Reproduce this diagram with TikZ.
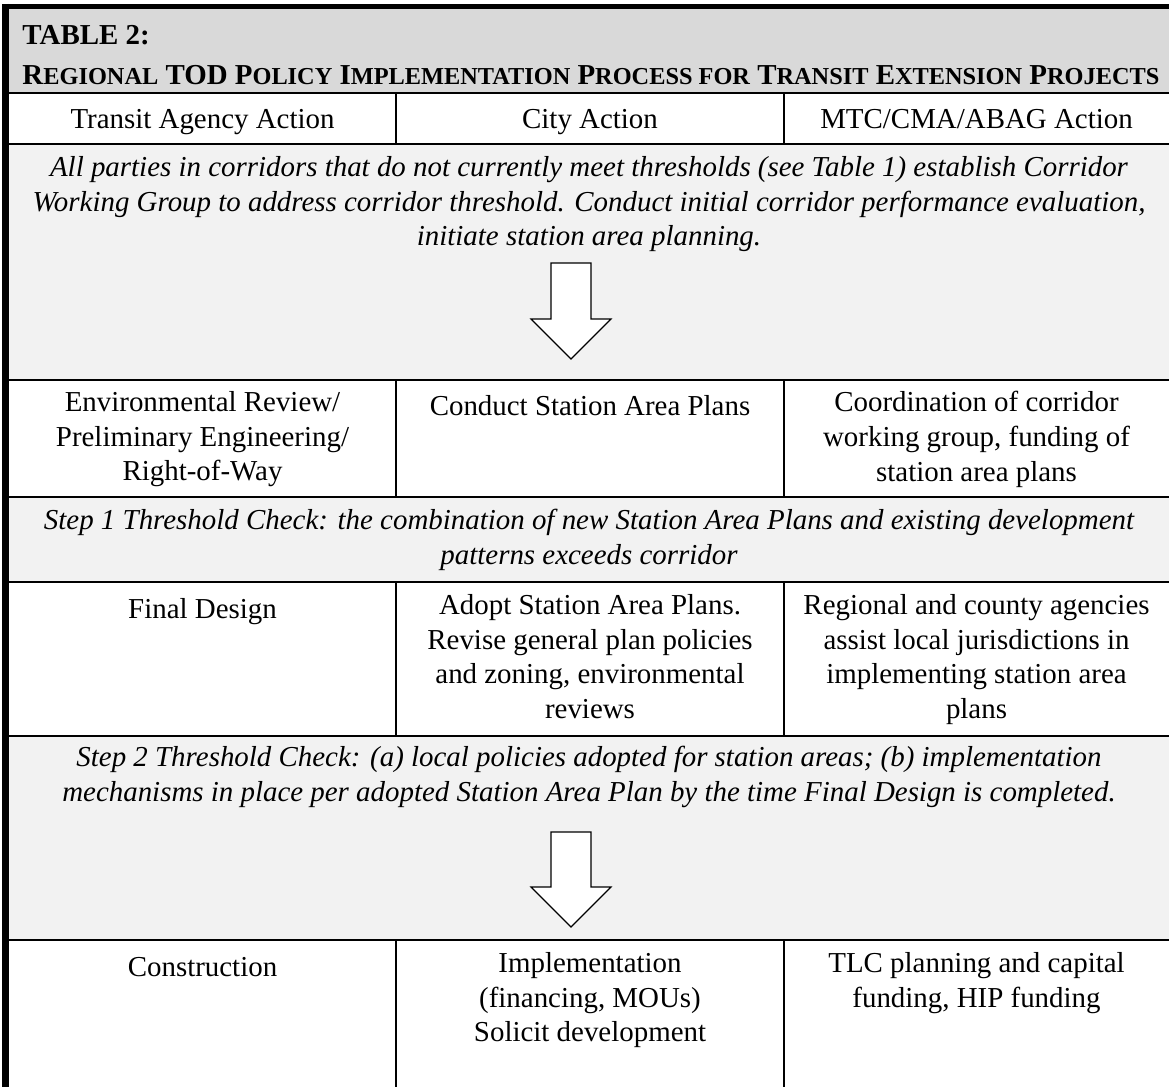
\documentclass[tikz,border=0pt]{standalone}
\usepackage{fontspec}
\setmainfont{Liberation Serif}
\definecolor{titlegray}{HTML}{D9D9D9}
\definecolor{rowgray}{HTML}{F2F2F2}
\newcommand{\smallcap}[1]{{\fontsize{10.1}{11}\selectfont #1}}

\begin{document}
\begin{tikzpicture}[x=0.415pt,y=-0.415pt,
	cell/.style={anchor=north,inner sep=0pt,align=center,font={\fontsize{12}{14.4}\selectfont},execute at begin node=\strut},
	note/.style={cell,font={\fontsize{12}{14.4}\selectfont\itshape}},
	heading/.style={anchor=base west,inner sep=0pt,font={\fontsize{12}{14.4}\selectfont\bfseries}},
	rule/.style={line width=1pt},
	blockarrow/.style={fill=white,draw=black,line width=0.5pt,line join=miter}]
	\useasboundingbox (0,0) rectangle (1169,1087);
	% shading of the bands
	\fill[titlegray] (9,9) rectangle (1169,93);
	\fill[rowgray] (9,144) rectangle (1169,380);
	\fill[rowgray] (9,497) rectangle (1169,582);
	\fill[rowgray] (9,736) rectangle (1169,940);
	% rules
	\foreach \y in {93,144,380,497,582,736,940}
		\draw[rule] (9,\y) -- (1169,\y);
	\foreach \x in {396,784} {
		\draw[rule] (\x,93) -- (\x,144);
		\draw[rule] (\x,380) -- (\x,497);
		\draw[rule] (\x,582) -- (\x,736);
		\draw[rule] (\x,940) -- (\x,1087);
	}
	\draw[line width=2.2pt] (2,6.5) -- (1169,6.5);
	\draw[line width=2.9pt] (5.5,4) -- (5.5,1087);
	% title
	\node[heading] (title) at (22,45) {TABLE 2:};
	\node[heading] (subtitle) at (22,85) {R\smallcap{EGIONAL} TOD P\smallcap{OLICY} I\smallcap{MPLEMENTATION} P\smallcap{ROCESS FOR} T\smallcap{RANSIT} E\smallcap{XTENSION} P\smallcap{ROJECTS}};
	% header row
	\node[cell] (head1) at (202.5,104) {Transit Agency Action};
	\node[cell] (head2) at (590,104) {City Action};
	\node[cell] (head3) at (976.5,104) {MTC/CMA/ABAG Action};
	% corridor working group
	\node[note] (start) at (589,156) {All parties in corridors that do not currently meet thresholds (see Table 1) establish Corridor\\Working Group to address corridor threshold. Conduct initial corridor performance evaluation,\\initiate station area planning.};
	\draw[blockarrow] (551,263) -- (591,263) -- (591,319) -- (611,319) -- (571,359) -- (531,319) -- (551,319) -- cycle;
	% planning row
	\node[cell] (plan1) at (202.5,391) {Environmental Review/\\Preliminary Engineering/\\Right-of-Way};
	\node[cell] (plan2) at (590,391) {Conduct Station Area Plans};
	\node[cell] (plan3) at (976.5,391) {Coordination of corridor\\working group, funding of\\station area plans};
	\node[note] (check1) at (589,509) {Step 1 Threshold Check: the combination of new Station Area Plans and existing development\\patterns exceeds corridor};
	% design row
	\node[cell] (design1) at (202.5,594) {Final Design};
	\node[cell] (design2) at (590,594) {Adopt Station Area Plans.\\Revise general plan policies\\and zoning, environmental\\reviews};
	\node[cell] (design3) at (976.5,594) {Regional and county agencies\\assist local jurisdictions in\\implementing station area\\plans};
	\node[note] (check2) at (589,746) {Step 2 Threshold Check: (a) local policies adopted for station areas; (b) implementation\\mechanisms in place per adopted Station Area Plan by the time Final Design is completed.};
	\draw[blockarrow] (551,832) -- (591,832) -- (591,887) -- (611,887) -- (571,927) -- (531,887) -- (551,887) -- cycle;
	% construction row
	\node[cell] (build1) at (202.5,952) {Construction};
	\node[cell] (build2) at (590,952) {Implementation\\(financing, MOUs)\\Solicit development};
	\node[cell] (build3) at (976.5,952) {TLC planning and capital\\funding, HIP funding};
\end{tikzpicture}
\end{document}
